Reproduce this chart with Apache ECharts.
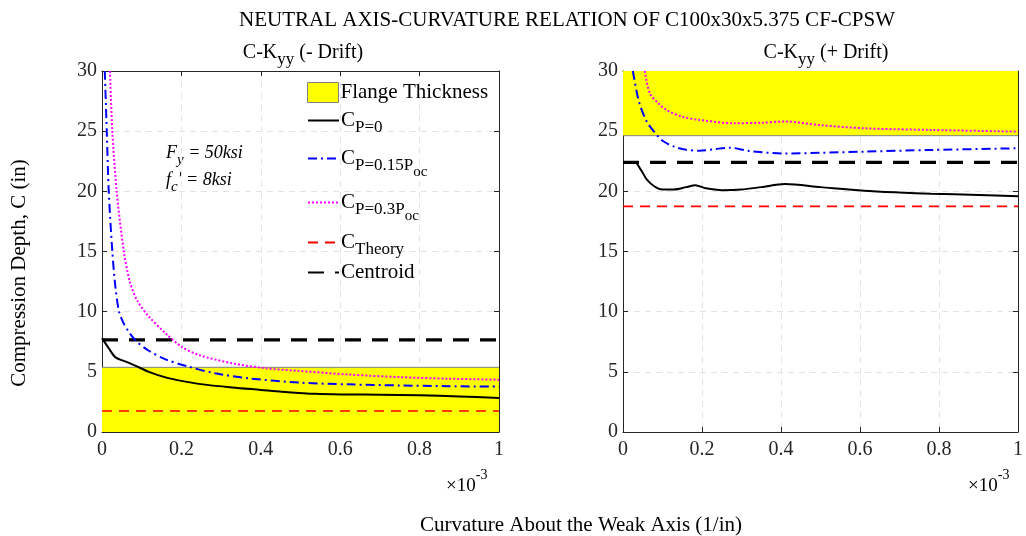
<!DOCTYPE html>
<html>
<head>
<meta charset="utf-8">
<script src="https://cdn.jsdelivr.net/npm/echarts@6/dist/echarts.min.js"></script>
<style>
html,body{margin:0;padding:0;background:#fff;}
#c{width:1026px;height:536px;}
</style>
</head>
<body>
<div id="c"></div>
<script>
// ---- data (x in units of 1e-3 1/in, y in inches) ----
const xTicks = [0, 0.2, 0.4, 0.6, 0.8, 1];
const yTicks = [0, 5, 10, 15, 20, 25, 30];
const flangeLeft = 5.375;
const flangeRight = 24.625;
const theoryLeft = 1.75;
const theoryRight = 18.75;
const centroidLeft = 7.65;
const centroidRight = 22.4;

const leftP0 = [[0,7.8],[0.017,6.96],[0.034,6.2],[0.06,5.85],[0.085,5.49],[0.118,5.0],[0.16,4.54],[0.2,4.25],[0.244,4.0],[0.328,3.7],[0.4,3.5],[0.453,3.35],[0.537,3.17],[0.62,3.12],[0.7,3.1],[0.8,3.05],[0.9,2.95],[1.0,2.83]];
const leftP15 = [[0.007,30],[0.012,25],[0.017,20],[0.026,15],[0.034,12],[0.043,10],[0.055,9.0],[0.068,8.3],[0.085,7.6],[0.118,6.75],[0.16,6.04],[0.218,5.43],[0.285,4.88],[0.37,4.46],[0.5,4.1],[0.62,3.96],[0.75,3.87],[0.87,3.81],[1.0,3.77]];
const leftP30 = [[0.02,30],[0.026,25],[0.037,20],[0.055,15],[0.07,12.5],[0.089,10.9],[0.118,9.6],[0.16,8.2],[0.2,7.1],[0.244,6.4],[0.328,5.71],[0.41,5.3],[0.495,5.08],[0.62,4.78],[0.75,4.56],[0.87,4.43],[1.0,4.35]];

const rightP0 = [[0,22.4],[0.03,22.4],[0.045,21.8],[0.06,21.0],[0.08,20.4],[0.1,20.15],[0.13,20.15],[0.16,20.35],[0.183,20.5],[0.21,20.25],[0.25,20.1],[0.3,20.15],[0.35,20.35],[0.41,20.6],[0.5,20.35],[0.61,20.05],[0.7,19.9],[0.78,19.8],[0.9,19.7],[1.0,19.6]];
const rightP15 = [[0.025,30],[0.04,27.5],[0.06,25.8],[0.08,24.9],[0.1,24.2],[0.13,23.7],[0.16,23.45],[0.193,23.38],[0.23,23.5],[0.27,23.63],[0.32,23.35],[0.41,23.15],[0.5,23.2],[0.61,23.3],[0.78,23.44],[1.0,23.58]];
const rightP30 = [[0.055,30],[0.068,28.15],[0.09,27.3],[0.11,26.77],[0.15,26.2],[0.193,25.94],[0.277,25.66],[0.35,25.7],[0.41,25.8],[0.5,25.5],[0.61,25.24],[0.78,25.1],[1.0,24.96]];

// ---- styling ----
const FONT = 'Liberation Serif';
const TXT = '#262626';
const chart = echarts.init(document.getElementById('c'));

function xAx(grid, pos) {
  const main = pos === 'bottom';
  return {
    type: 'value', gridIndex: grid, position: pos, min: 0, max: 1, interval: 0.2,
    axisLine: {show: true, onZero: false, lineStyle: {color: TXT, width: 1}},
    axisTick: {show: true, inside: true, length: 5, lineStyle: {color: TXT}},
    axisLabel: {show: main, fontFamily: FONT, fontSize: 20, color: TXT, margin: 8,
      formatter: v => String(+v.toFixed(1))},
    splitLine: {show: main, lineStyle: {type: [6, 5], color: '#e3e3e3', width: 1}}
  };
}
function yAx(grid, pos) {
  const main = pos === 'left';
  return {
    type: 'value', gridIndex: grid, position: pos, min: 0, max: 30, interval: 5,
    axisLine: {show: true, onZero: false, lineStyle: {color: TXT, width: 1}},
    axisTick: {show: true, inside: true, length: 5, lineStyle: {color: TXT}},
    axisLabel: {show: main, fontFamily: FONT, fontSize: 20, color: TXT, margin: 5},
    splitLine: {show: main, lineStyle: {type: [6, 5], color: '#e3e3e3', width: 1}}
  };
}
function hline(v) { return [[xTicks[0], v], [xTicks[xTicks.length - 1], v]]; }

function seriesFor(g, p0, p15, p30, flange, origin, theory, centroid) {
  const curve = {type: 'line', xAxisIndex: g, yAxisIndex: g, symbol: 'none', smooth: 0.3, z: 5};
  return [
    {name: 'Flange Thickness', type: 'line', xAxisIndex: g, yAxisIndex: g, symbol: 'none',
      data: hline(flange), lineStyle: {color: '#808080', width: 1},
      areaStyle: {color: '#ffff00', opacity: 1, origin: origin}, z: 1},
    Object.assign({}, curve, {name: 'C_P0', data: p0, color: '#000000',
      lineStyle: {color: '#000000', width: 2}}),
    Object.assign({}, curve, {name: 'C_P15', data: p15, color: '#0000ff',
      lineStyle: {color: '#0000ff', width: 2, type: [9, 4, 2, 4]}}),
    Object.assign({}, curve, {name: 'C_P30', data: p30, color: '#ff00ff',
      lineStyle: {color: '#ff00ff', width: 2, type: [2, 2]}}),
    {name: 'C_Theory', type: 'line', xAxisIndex: g, yAxisIndex: g, symbol: 'none',
      data: hline(theory), color: '#ff0000', lineStyle: {color: '#ff0000', width: 1.6, type: [10, 7]}, z: 4},
    {name: 'Centroid', type: 'line', xAxisIndex: g, yAxisIndex: g, symbol: 'none',
      data: hline(centroid), color: '#000000', lineStyle: {color: '#000000', width: 3.2, type: [16, 11]}, z: 4}
  ];
}

const legendNames = {
  'Flange Thickness': '{m|Flange Thickness}',
  'C_P0': '{m|C}{s|P=0}',
  'C_P15': '{m|C}{s|P=0.15P}{ss|oc}',
  'C_P30': '{m|C}{s|P=0.3P}{ss|oc}',
  'C_Theory': '{m|C}{s|Theory}',
  'Centroid': '{m|Centroid}'
};
const legendTops = {
  'Flange Thickness': 77, 'C_P0': 105, 'C_P15': 143, 'C_P30': 187, 'C_Theory': 227, 'Centroid': 257
};
const legendRich = {
  m: {fontFamily: FONT, fontSize: 21, color: '#000'},
  s: {fontFamily: FONT, fontSize: 17, color: '#000', padding: [14, 0, 0, 0]},
  ss: {fontFamily: FONT, fontSize: 15, color: '#000', padding: [28, 0, 0, 0]}
};
const legends = Object.keys(legendNames).map(n => ({
  orient: 'vertical', left: 302, top: legendTops[n], itemWidth: 31, itemHeight: 20,
  selectedMode: false,
  itemStyle: {opacity: 0},
  data: [n === 'Flange Thickness'
    ? {name: n, icon: 'rect', itemStyle: {color: '#ffff00', borderColor: '#7f7f7f', borderWidth: 1, opacity: 1}}
    : n],
  formatter: k => legendNames[k],
  textStyle: {padding: [0, 0, 0, -3], rich: legendRich}
}));

const subTitle = txt => ({
  text: '{m|C-K}{s|yy}{m| ' + txt + '}',
  textStyle: {rich: {
    m: {fontFamily: FONT, fontSize: 20, fontWeight: 'normal', color: '#000'},
    s: {fontFamily: FONT, fontSize: 17, fontWeight: 'normal', color: '#000', padding: [13, 0, 0, 0]}
  }}
});
const supRich = {
  a: {fontFamily: FONT, fontSize: 19, fill: '#000', padding: [10, 0, 0, 0]},
  b: {fontFamily: FONT, fontSize: 14, fill: '#000', padding: [0, 0, 12, 0]}
};
const itRich = {
  i: {fontFamily: FONT, fontStyle: 'italic', fontSize: 18, fill: '#000'},
  is: {fontFamily: FONT, fontStyle: 'italic', fontSize: 15, fill: '#000', padding: [14, 0, 0, 0]}
};

const option = {
  animation: false,
  backgroundColor: '#ffffff',
  title: [
    {text: 'NEUTRAL AXIS-CURVATURE RELATION OF C100x30x5.375 CF-CPSW', left: 562, top: 5, textAlign: 'center',
      textStyle: {fontFamily: FONT, fontSize: 21, fontWeight: 'normal', color: '#000'}},
    Object.assign(subTitle('(- Drift)'), {left: 298, top: 33, textAlign: 'center'}),
    Object.assign(subTitle('(+ Drift)'), {left: 821, top: 33, textAlign: 'center'})
  ],
  grid: [
    {left: 102, top: 71, width: 397, height: 361},
    {left: 623, top: 71, width: 398, height: 361}
  ],
  xAxis: [xAx(0, 'bottom'), xAx(1, 'bottom'), xAx(0, 'top'), xAx(1, 'top')],
  yAxis: [yAx(0, 'left'), yAx(1, 'left'), yAx(0, 'right'), yAx(1, 'right')],
  legend: legends,
  graphic: [
    {type: 'text', left: 166, top: 144, style: {text: '{i|F}{is|y}{i| = 50ksi}', rich: itRich}},
    {type: 'text', left: 166, top: 171, style: {text: '{i|f}{is|c}{i|′ = 8ksi}', rich: itRich}},
    {type: 'text', left: 446, top: 468, style: {text: '{a|×10}{b|-3}', rich: supRich}},
    {type: 'text', left: 968, top: 468, style: {text: '{a|×10}{b|-3}', rich: supRich}},
    {type: 'text', x: 581, y: 525, style: {
      text: 'Curvature About the Weak Axis (1/in)', fontFamily: FONT, fontSize: 21, fill: '#000',
      align: 'center', verticalAlign: 'middle'}},
    {type: 'text', x: 19, y: 273, rotation: Math.PI / 2, style: {
      text: 'Compression Depth, C (in)', fontFamily: FONT, fontSize: 21, fill: '#000',
      align: 'center', verticalAlign: 'middle'}}
  ],
  series: [].concat(
    seriesFor(0, leftP0, leftP15, leftP30, flangeLeft, 'start', theoryLeft, centroidLeft),
    seriesFor(1, rightP0, rightP15, rightP30, flangeRight, 'end', theoryRight, centroidRight)
  )
};
chart.setOption(option);
</script>
</body>
</html>
